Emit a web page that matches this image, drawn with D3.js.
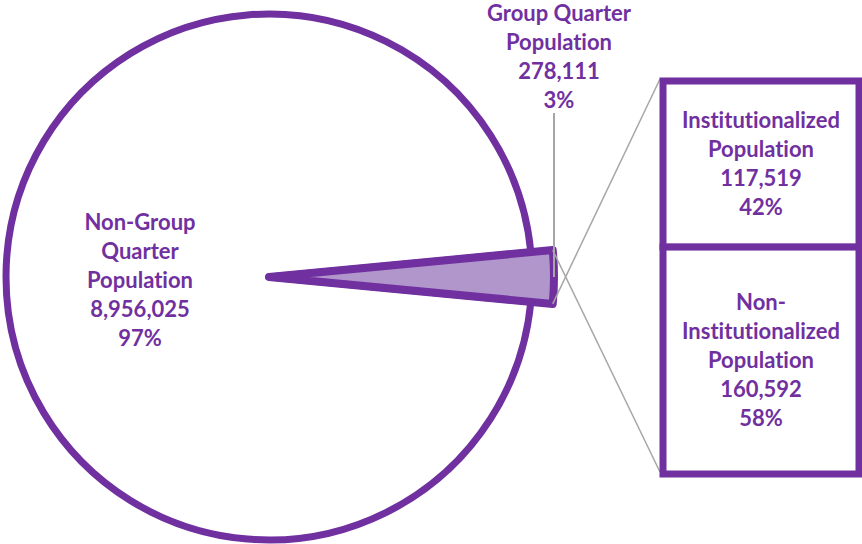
<!DOCTYPE html>
<html>
<head>
<meta charset="utf-8">
<script src="https://cdn.jsdelivr.net/npm/d3@7"></script>
<style>
  body { margin: 0; background: #fff; }
  svg { display: block; }
  text { font-family: Lato, "Open Sans", sans-serif; font-weight: 700; fill: #7030A0;
         font-variant-ligatures: none; font-feature-settings: "liga" 0; }
</style>
</head>
<body>
<svg width="862" height="544"></svg>
<script>
// pie: non-group quarters vs group quarters
const pieLabels = [['Non-Group', 'Quarter', 'Population'], ['Group Quarter', 'Population']];
const pieValues = [8956025, 278111];
// bar: breakdown of the group quarter slice
const barLabels = [['Institutionalized', 'Population'], ['Non-', 'Institutionalized', 'Population']];
const barValues = [117519, 160592];

const purple = '#7030A0';
const lilac = '#B196CC';
const grey = '#A6A6A6';
const fs = 22, lh = 29;

const svg = d3.select('svg');
const fmt = d3.format(',');
const pct = v => Math.round(v * 100) + '%';

const pieTotal = d3.sum(pieValues);
const small = 2 * Math.PI * pieValues[1] / pieTotal;
const start = Math.PI / 2 + small / 2;
const arcs = d3.pie().sort(null).startAngle(start).endAngle(start + 2 * Math.PI)(pieValues);

const cx = 269, cy = 277;
const g = svg.append('g').attr('transform', `translate(${cx},${cy})`);
const radius = [263, 285];
arcs.forEach((a, i) => {
  g.append('path')
    .attr('d', d3.arc().innerRadius(0).outerRadius(radius[i])(a))
    .attr('fill', i === 0 ? '#fff' : lilac)
    .attr('stroke', purple)
    .attr('stroke-width', i === 0 ? 7 : 8)
    .attr('stroke-linejoin', 'round');
});

// bar of the small slice
const bx0 = 663, bx1 = 859;
const y = d3.scaleLinear().domain([0, d3.sum(barValues)]).range([81, 474]);
const cum = d3.cumsum([0, ...barValues]);

// connector lines
const sa = arcs[1];
const tip = ang => [cx + radius[1] * Math.sin(ang), cy - radius[1] * Math.cos(ang)];
const [tx0, ty0] = tip(sa.endAngle);
const [tx1, ty1] = tip(sa.startAngle);
svg.append('line').attr('x1', tx0).attr('y1', ty0).attr('x2', bx0 - 3).attr('y2', y(0) - 2)
  .attr('stroke', grey).attr('stroke-width', 1.5);
svg.append('line').attr('x1', tx1).attr('y1', ty1).attr('x2', bx0 - 3).attr('y2', y(cum[2]) - 2)
  .attr('stroke', grey).attr('stroke-width', 1.5);

barValues.forEach((v, i) => {
  svg.append('rect')
    .attr('x', bx0).attr('y', y(cum[i]))
    .attr('width', bx1 - bx0).attr('height', y(cum[i + 1]) - y(cum[i]))
    .attr('fill', '#fff').attr('stroke', purple).attr('stroke-width', 7);
});

function label(lines, x, yc) {
  const t = svg.append('text').attr('text-anchor', 'middle').style('font-size', fs + 'px');
  const top = yc - (lines.length - 1) * lh / 2;
  lines.forEach((s, k) => {
    t.append('tspan').attr('x', x).attr('y', top + k * lh + fs * 0.35).text(s);
  });
}

// pie labels
label([...pieLabels[0], fmt(pieValues[0]), pct(pieValues[0] / pieTotal)], 140, 280);
label([...pieLabels[1], fmt(pieValues[1]), pct(pieValues[1] / pieTotal)], 559, 57);
// leader from group quarter label to its slice
const [mx, my] = tip((sa.startAngle + sa.endAngle) / 2);
svg.append('line').attr('x1', mx).attr('y1', 113).attr('x2', mx).attr('y2', my)
  .attr('stroke', grey).attr('stroke-width', 2);

// bar labels
const barTotal = d3.sum(barValues);
barValues.forEach((v, i) => {
  label([...barLabels[i], fmt(v), pct(v / barTotal)], (bx0 + bx1) / 2, (y(cum[i]) + y(cum[i + 1])) / 2);
});
</script>
</body>
</html>
